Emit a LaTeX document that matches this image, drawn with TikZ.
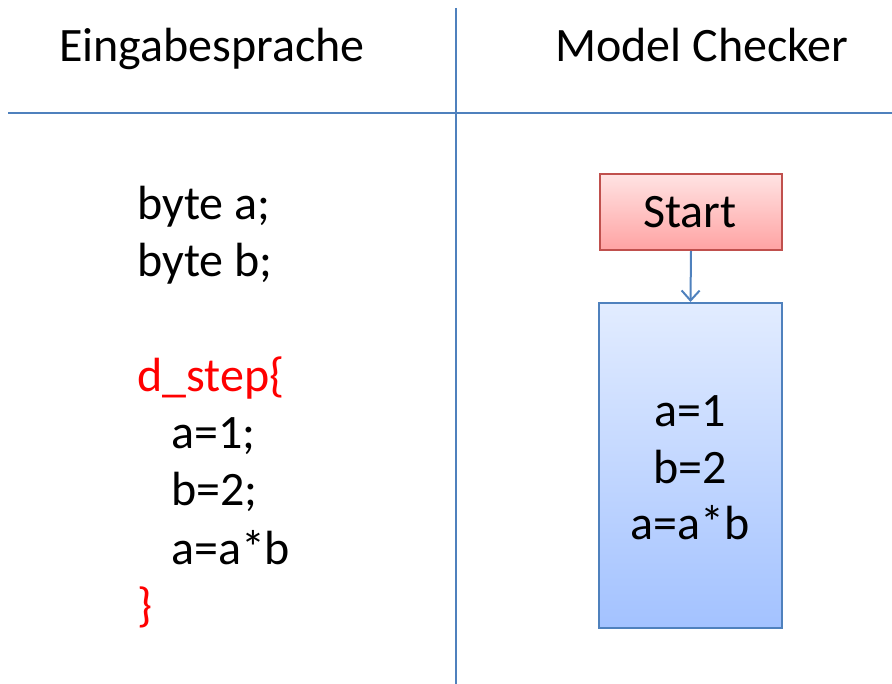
\documentclass[tikz,border=0pt]{standalone}
\usepackage{fontspec}
\setmainfont{Carlito}
\usetikzlibrary{arrows.meta}
\definecolor{lineblue}{HTML}{4F81BD}
\definecolor{redborder}{HTML}{C0504D}
\definecolor{codered}{HTML}{FF0000}
\definecolor{redtop}{HTML}{FFE3E3}
\definecolor{redbot}{HTML}{FFA3A3}
\definecolor{bluetop}{HTML}{E2ECFF}
\definecolor{bluebot}{HTML}{A3C2FF}
\begin{document}
\begin{tikzpicture}[x=1pt,y=-1pt,
  every node/.style={font=\fontsize{48}{57}\selectfont, inner sep=0pt},
  txt/.style={anchor=base west},
  ctr/.style={anchor=base},
  rule/.style={draw=lineblue, line width=2pt},
  startbox/.style={draw=redborder, line width=2pt, top color=redtop, bottom color=redbot, minimum width=182pt, minimum height=76pt, anchor=north west},
  stepbox/.style={draw=lineblue, line width=2pt, top color=bluetop, bottom color=bluebot, minimum width=183pt, minimum height=325pt, anchor=north west},
  conn/.style={draw=lineblue, line width=2pt, -{Straight Barb[length=10pt,width=18pt]}}]
\useasboundingbox (0,0) rectangle (892,684);
\coordinate (vtop) at (456,8);
\coordinate (vbot) at (456,684);
\coordinate (hl) at (8,113);
\coordinate (hr) at (892,113);
\draw[rule] (vtop) -- (vbot);
\draw[rule] (hl) -- (hr);
\node[ctr] (h1) at (212,62) {Eingabesprache};
\node[ctr] (h2) at (702,62) {Model Checker};
\node[txt] (l1) at (137,220) {byte a;};
\node[txt] (l2) at (137,277) {byte b;};
\node[txt, text=codered] (l3) at (137,392) {d\_step\{};
\node[txt] (l4) at (171,449) {a=1;};
\node[txt] (l5) at (171,506) {b=2;};
\node[txt] (l6) at (171,564) {a=a*b};
\node[txt, text=codered] (l7) at (137,621) {\}};
\node[startbox] (start) at (599,173) {};
\node[ctr] (starttxt) at (690,228) {Start};
\node[stepbox] (step) at (598,302) {};
\node[ctr] (s1) at (690,427) {a=1};
\node[ctr] (s2) at (690,483) {b=2};
\node[ctr] (s3) at (690,539) {a=a*b};
\draw[conn] (start.south) -- (step.north);
\end{tikzpicture}
\end{document}
